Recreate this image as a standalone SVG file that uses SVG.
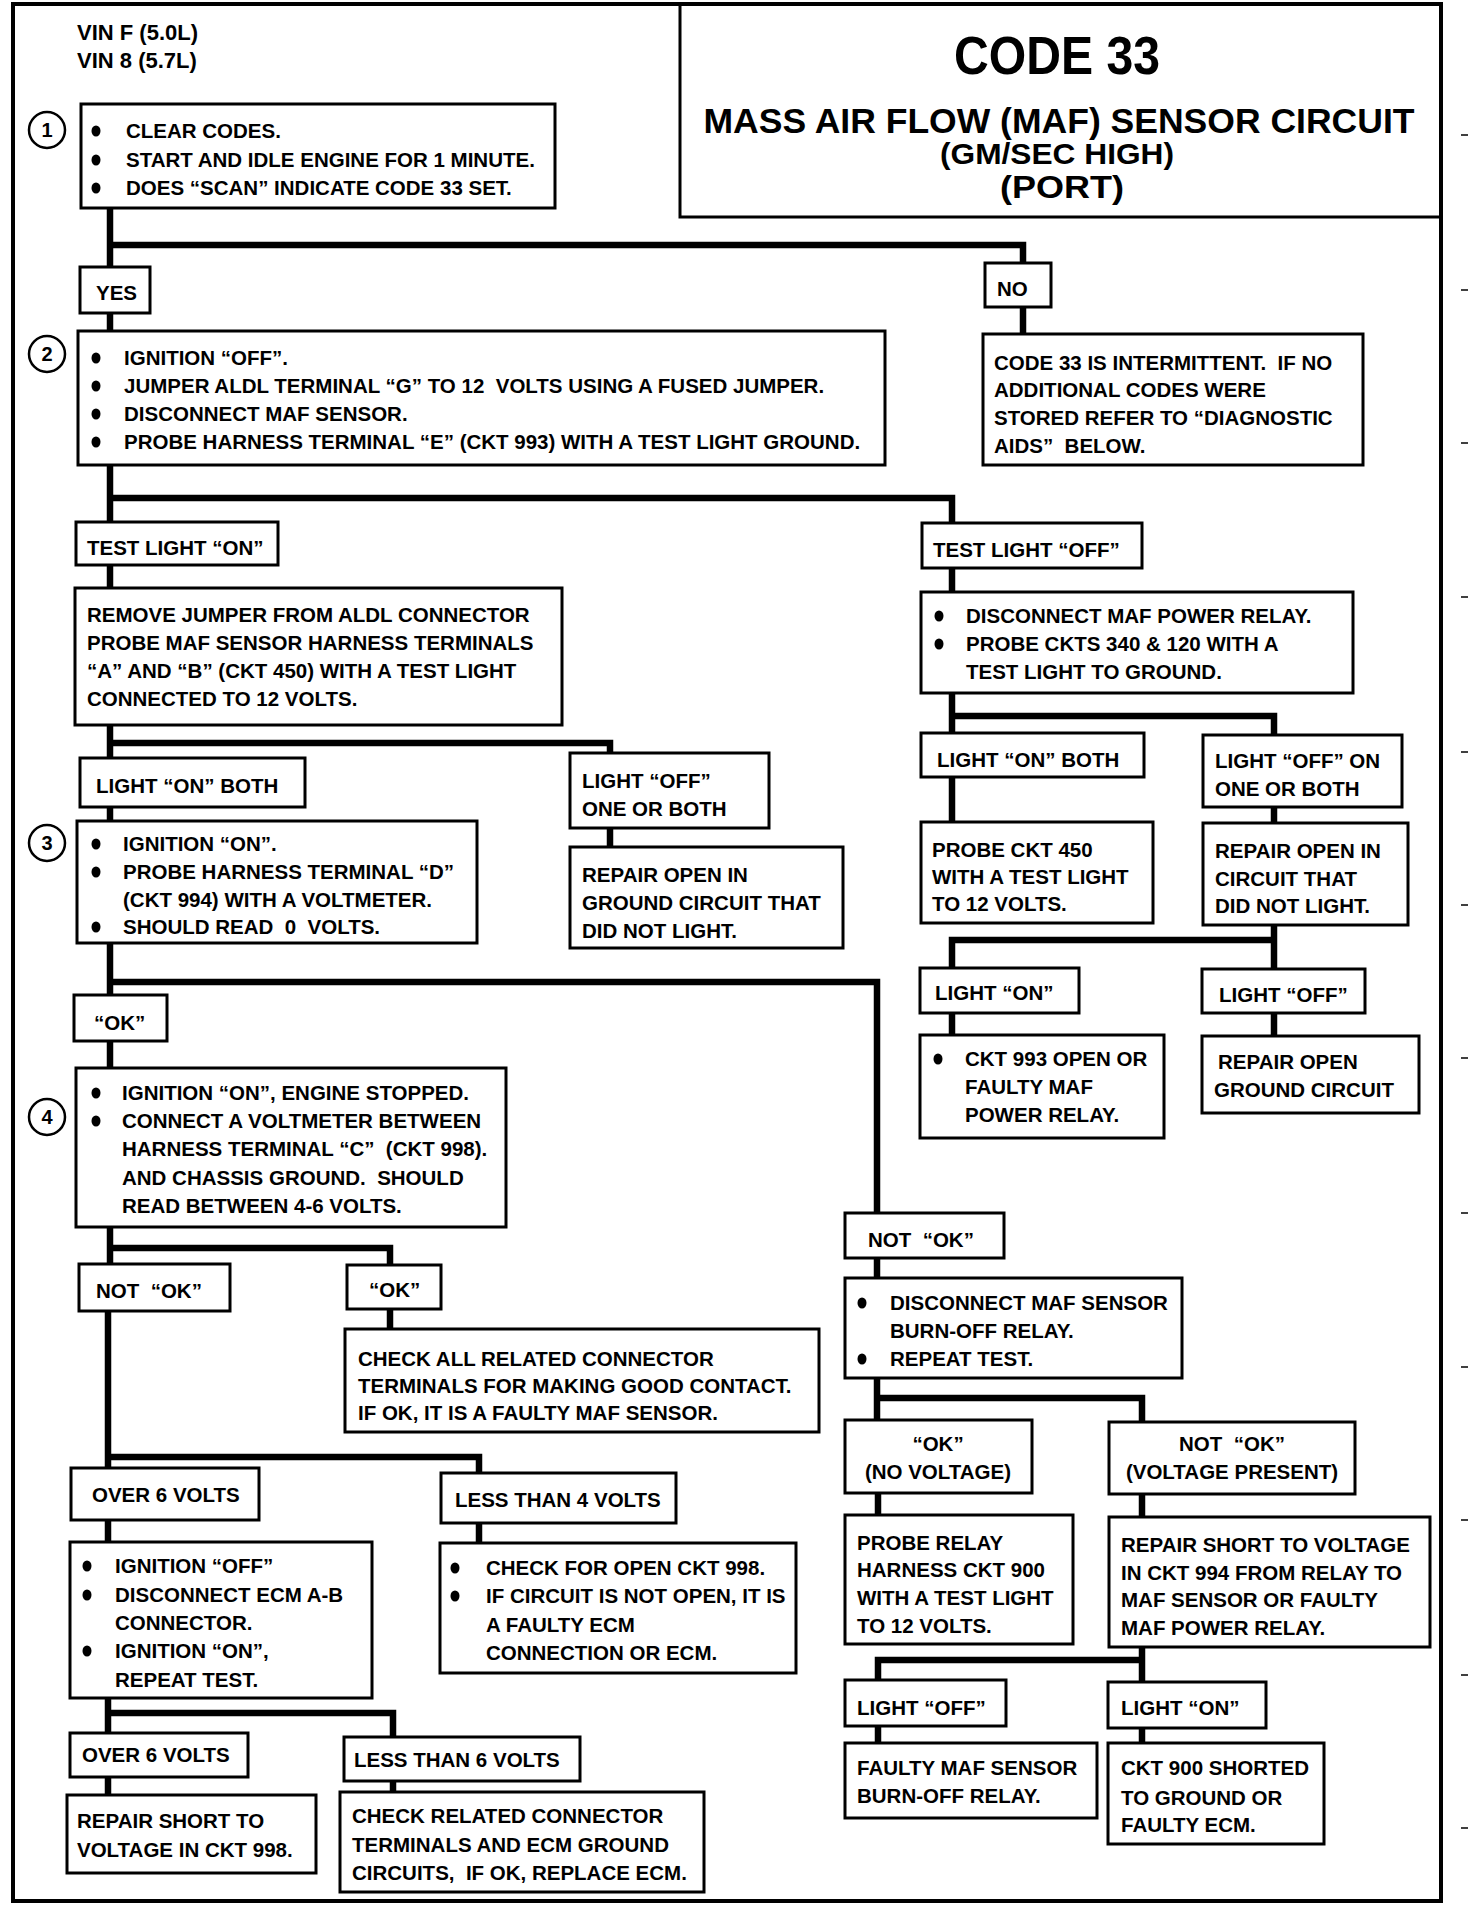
<svg xmlns="http://www.w3.org/2000/svg" width="1472" height="1914" viewBox="0 0 1472 1914">
<style>
.bg{fill:#fff}
.frame{fill:none;stroke:#000;stroke-width:4}
.tl{fill:none;stroke:#000;stroke-width:3}
.box{fill:#fff;stroke:#000;stroke-width:3}
.c{fill:none;stroke:#000;stroke-width:6.5;stroke-linejoin:miter}
.dash{stroke:#000;stroke-width:1.5}
text{font-family:"Liberation Sans",Arial,sans-serif;font-weight:bold;fill:#000}
.t{font-size:20.5px}
.v{font-size:22px}
.num{font-size:20px;text-anchor:middle}
.mid{text-anchor:middle}
.circ{fill:#fff;stroke:#000;stroke-width:2.5}
.b{fill:#000}
</style>
<rect class="bg" x="0" y="0" width="1472" height="1914"/>
<rect class="frame" x="13" y="4" width="1428" height="1897"/>
<g id="title">
<path class="tl" d="M680 4 V217 H1441"/>
<text x="1057" y="74" class="mid" font-size="54" textLength="206" lengthAdjust="spacingAndGlyphs">CODE 33</text>
<text x="1059" y="133" class="mid" font-size="35" textLength="711" lengthAdjust="spacingAndGlyphs">MASS AIR FLOW (MAF) SENSOR CIRCUIT</text>
<text x="1057" y="164" class="mid" font-size="30" textLength="234" lengthAdjust="spacingAndGlyphs">(GM/SEC HIGH)</text>
<text x="1062" y="198" class="mid" font-size="31" textLength="124" lengthAdjust="spacingAndGlyphs">(PORT)</text>
</g>
<g id="vin">
<text class="v" x="77" y="40">VIN F (5.0L)</text>
<text class="v" x="77" y="68">VIN 8 (5.7L)</text>
</g>
<g id="ticks">
<line class="dash" x1="1461" y1="135" x2="1468" y2="135"/>
<line class="dash" x1="1461" y1="290" x2="1468" y2="290"/>
<line class="dash" x1="1461" y1="443" x2="1468" y2="443"/>
<line class="dash" x1="1461" y1="597" x2="1468" y2="597"/>
<line class="dash" x1="1461" y1="752" x2="1468" y2="752"/>
<line class="dash" x1="1461" y1="905" x2="1468" y2="905"/>
<line class="dash" x1="1461" y1="1058" x2="1468" y2="1058"/>
<line class="dash" x1="1461" y1="1213" x2="1468" y2="1213"/>
<line class="dash" x1="1461" y1="1367" x2="1468" y2="1367"/>
<line class="dash" x1="1461" y1="1520" x2="1468" y2="1520"/>
<line class="dash" x1="1461" y1="1675" x2="1468" y2="1675"/>
<line class="dash" x1="1461" y1="1828" x2="1468" y2="1828"/>
</g>
<g id="connectors">
<path class="c" d="M110 208 V267"/>
<path class="c" d="M110 313 V331"/>
<path class="c" d="M110 245 H1023 V263"/>
<path class="c" d="M1023 307 V334"/>
<path class="c" d="M110 465 V522"/>
<path class="c" d="M110 498 H952 V523"/>
<path class="c" d="M952 568 V592"/>
<path class="c" d="M110 565 V588"/>
<path class="c" d="M110 725 V758"/>
<path class="c" d="M110 743 H610 V753"/>
<path class="c" d="M610 828 V847"/>
<path class="c" d="M110 807 V821"/>
<path class="c" d="M110 943 V995"/>
<path class="c" d="M110 982 H877 V1213"/>
<path class="c" d="M110 1041 V1068"/>
<path class="c" d="M110 1227 V1264"/>
<path class="c" d="M110 1248 H390 V1265"/>
<path class="c" d="M390 1309 V1329"/>
<path class="c" d="M108 1311 V1468"/>
<path class="c" d="M108 1457 H479 V1473"/>
<path class="c" d="M108 1520 V1542"/>
<path class="c" d="M479 1523 V1543"/>
<path class="c" d="M108 1698 V1733"/>
<path class="c" d="M108 1713 H393 V1737"/>
<path class="c" d="M108 1777 V1795"/>
<path class="c" d="M393 1781 V1792"/>
<path class="c" d="M952 693 V733"/>
<path class="c" d="M952 716 H1274 V735"/>
<path class="c" d="M952 777 V822"/>
<path class="c" d="M1274 807 V823"/>
<path class="c" d="M1274 925 V969"/>
<path class="c" d="M952 968 V940 H1274"/>
<path class="c" d="M952 1013 V1035"/>
<path class="c" d="M1274 1013 V1036"/>
<path class="c" d="M877 1258 V1278"/>
<path class="c" d="M877 1378 V1420"/>
<path class="c" d="M877 1398 H1142 V1422"/>
<path class="c" d="M878 1493 V1515"/>
<path class="c" d="M1142 1494 V1517"/>
<path class="c" d="M1142 1647 V1682"/>
<path class="c" d="M878 1680 V1660 H1142"/>
<path class="c" d="M878 1726 V1743"/>
<path class="c" d="M1142 1728 V1743"/>
</g>
<g id="step1">
<circle class="circ" cx="47" cy="130" r="18"/><text class="num" x="47" y="137">1</text>
<rect class="box" x="81" y="104" width="474" height="104"/>
<ellipse class="b" cx="96" cy="131" rx="4.5" ry="5.5"/><text class="t" x="126" y="138">CLEAR CODES.</text>
<ellipse class="b" cx="96" cy="160" rx="4.5" ry="5.5"/><text class="t" x="126" y="167">START AND IDLE ENGINE FOR 1 MINUTE.</text>
<ellipse class="b" cx="96" cy="188" rx="4.5" ry="5.5"/><text class="t" x="126" y="195">DOES “SCAN” INDICATE CODE 33 SET.</text>
</g>
<g id="yes"><rect class="box" x="80" y="267" width="70" height="46"/><text class="t" x="96" y="300">YES</text></g>
<g id="no"><rect class="box" x="985" y="263" width="66" height="44"/><text class="t" x="997" y="296">NO</text></g>
<g id="step2">
<circle class="circ" cx="47" cy="354" r="18"/><text class="num" x="47" y="361">2</text>
<rect class="box" x="78" y="331" width="807" height="134"/>
<ellipse class="b" cx="96" cy="358" rx="4.5" ry="5.5"/><text class="t" x="124" y="365">IGNITION “OFF”.</text>
<ellipse class="b" cx="96" cy="386" rx="4.5" ry="5.5"/><text class="t" x="124" y="393">JUMPER ALDL TERMINAL “G” TO 12&#160; VOLTS USING A FUSED JUMPER.</text>
<ellipse class="b" cx="96" cy="414" rx="4.5" ry="5.5"/><text class="t" x="124" y="421">DISCONNECT MAF SENSOR.</text>
<ellipse class="b" cx="96" cy="442" rx="4.5" ry="5.5"/><text class="t" x="124" y="449">PROBE HARNESS TERMINAL “E” (CKT 993) WITH A TEST LIGHT GROUND.</text>
</g>
<g id="intermittent">
<rect class="box" x="983" y="334" width="380" height="131"/>
<text class="t" x="994" y="370">CODE 33 IS INTERMITTENT.&#160; IF NO</text>
<text class="t" x="994" y="397">ADDITIONAL CODES WERE</text>
<text class="t" x="994" y="425">STORED REFER TO “DIAGNOSTIC</text>
<text class="t" x="994" y="453">AIDS”&#160; BELOW.</text>
</g>
<g id="tl-on"><rect class="box" x="76" y="522" width="202" height="43"/><text class="t" x="87" y="555">TEST LIGHT “ON”</text></g>
<g id="tl-off"><rect class="box" x="922" y="523" width="220" height="45"/><text class="t" x="933" y="557">TEST LIGHT “OFF”</text></g>
<g id="remove-jumper">
<rect class="box" x="75" y="588" width="487" height="137"/>
<text class="t" x="87" y="622">REMOVE JUMPER FROM ALDL CONNECTOR</text>
<text class="t" x="87" y="650">PROBE MAF SENSOR HARNESS TERMINALS</text>
<text class="t" x="87" y="678">“A” AND “B” (CKT 450) WITH A TEST LIGHT</text>
<text class="t" x="87" y="706">CONNECTED TO 12 VOLTS.</text>
</g>
<g id="disc-relay">
<rect class="box" x="921" y="592" width="432" height="101"/>
<ellipse class="b" cx="939" cy="616" rx="4.5" ry="5.5"/><text class="t" x="966" y="623">DISCONNECT MAF POWER RELAY.</text>
<ellipse class="b" cx="939" cy="644" rx="4.5" ry="5.5"/><text class="t" x="966" y="651">PROBE CKTS 340 &amp; 120 WITH A</text>
<text class="t" x="966" y="679">TEST LIGHT TO GROUND.</text>
</g>
<g id="lon-both-l"><rect class="box" x="80" y="758" width="225" height="49"/><text class="t" x="96" y="793">LIGHT “ON” BOTH</text></g>
<g id="loff-one-l">
<rect class="box" x="570" y="753" width="199" height="75"/>
<text class="t" x="582" y="788">LIGHT “OFF”</text>
<text class="t" x="582" y="816">ONE OR BOTH</text>
</g>
<g id="repair-gnd-l">
<rect class="box" x="570" y="847" width="273" height="101"/>
<text class="t" x="582" y="882">REPAIR OPEN IN</text>
<text class="t" x="582" y="910">GROUND CIRCUIT THAT</text>
<text class="t" x="582" y="938">DID NOT LIGHT.</text>
</g>
<g id="step3">
<circle class="circ" cx="47" cy="843" r="18"/><text class="num" x="47" y="850">3</text>
<rect class="box" x="77" y="821" width="400" height="122"/>
<ellipse class="b" cx="96" cy="844" rx="4.5" ry="5.5"/><text class="t" x="123" y="851">IGNITION “ON”.</text>
<ellipse class="b" cx="96" cy="872" rx="4.5" ry="5.5"/><text class="t" x="123" y="879">PROBE HARNESS TERMINAL “D”</text>
<text class="t" x="123" y="907">(CKT 994) WITH A VOLTMETER.</text>
<ellipse class="b" cx="96" cy="927" rx="4.5" ry="5.5"/><text class="t" x="123" y="934">SHOULD READ&#160; 0&#160; VOLTS.</text>
</g>
<g id="lon-both-r"><rect class="box" x="921" y="733" width="223" height="44"/><text class="t" x="937" y="767">LIGHT “ON” BOTH</text></g>
<g id="loff-one-r">
<rect class="box" x="1203" y="735" width="199" height="72"/>
<text class="t" x="1215" y="768">LIGHT “OFF” ON</text>
<text class="t" x="1215" y="796">ONE OR BOTH</text>
</g>
<g id="probe450">
<rect class="box" x="921" y="822" width="232" height="101"/>
<text class="t" x="932" y="857">PROBE CKT 450</text>
<text class="t" x="932" y="884">WITH A TEST LIGHT</text>
<text class="t" x="932" y="911">TO 12 VOLTS.</text>
</g>
<g id="repair-open-r">
<rect class="box" x="1203" y="823" width="205" height="102"/>
<text class="t" x="1215" y="858">REPAIR OPEN IN</text>
<text class="t" x="1215" y="886">CIRCUIT THAT</text>
<text class="t" x="1215" y="913">DID NOT LIGHT.</text>
</g>
<g id="lon-r"><rect class="box" x="920" y="968" width="159" height="45"/><text class="t" x="935" y="1000">LIGHT “ON”</text></g>
<g id="loff-r"><rect class="box" x="1202" y="969" width="163" height="44"/><text class="t" x="1219" y="1002">LIGHT “OFF”</text></g>
<g id="ckt993">
<rect class="box" x="920" y="1035" width="244" height="103"/>
<ellipse class="b" cx="938" cy="1059" rx="4.5" ry="5.5"/><text class="t" x="965" y="1066">CKT 993 OPEN OR</text>
<text class="t" x="965" y="1094">FAULTY MAF</text>
<text class="t" x="965" y="1122">POWER RELAY.</text>
</g>
<g id="repair-gnd-r">
<rect class="box" x="1202" y="1036" width="217" height="77"/>
<text class="t" x="1218" y="1069">REPAIR OPEN</text>
<text class="t" x="1214" y="1097">GROUND CIRCUIT</text>
</g>
<g id="ok-1"><rect class="box" x="74" y="995" width="93" height="46"/><text class="t" x="94" y="1030">“OK”</text></g>
<g id="step4">
<circle class="circ" cx="47" cy="1117" r="18"/><text class="num" x="47" y="1124">4</text>
<rect class="box" x="76" y="1068" width="430" height="159"/>
<ellipse class="b" cx="96" cy="1093" rx="4.5" ry="5.5"/><text class="t" x="122" y="1100">IGNITION “ON”, ENGINE STOPPED.</text>
<ellipse class="b" cx="96" cy="1121" rx="4.5" ry="5.5"/><text class="t" x="122" y="1128">CONNECT A VOLTMETER BETWEEN</text>
<text class="t" x="122" y="1156">HARNESS TERMINAL “C”&#160; (CKT 998).</text>
<text class="t" x="122" y="1185">AND CHASSIS GROUND.&#160; SHOULD</text>
<text class="t" x="122" y="1213">READ BETWEEN 4-6 VOLTS.</text>
</g>
<g id="notok-l"><rect class="box" x="79" y="1264" width="151" height="47"/><text class="t" x="96" y="1298">NOT&#160; “OK”</text></g>
<g id="ok-2"><rect class="box" x="347" y="1265" width="94" height="44"/><text class="t" x="369" y="1297">“OK”</text></g>
<g id="check-all">
<rect class="box" x="345" y="1329" width="474" height="103"/>
<text class="t" x="358" y="1366">CHECK ALL RELATED CONNECTOR</text>
<text class="t" x="358" y="1393">TERMINALS FOR MAKING GOOD CONTACT.</text>
<text class="t" x="358" y="1420">IF OK, IT IS A FAULTY MAF SENSOR.</text>
</g>
<g id="over6-a"><rect class="box" x="71" y="1468" width="188" height="52"/><text class="t" x="92" y="1502">OVER 6 VOLTS</text></g>
<g id="less4"><rect class="box" x="441" y="1473" width="235" height="50"/><text class="t" x="455" y="1507">LESS THAN 4 VOLTS</text></g>
<g id="ign-off">
<rect class="box" x="70" y="1542" width="302" height="156"/>
<ellipse class="b" cx="87" cy="1566" rx="4.5" ry="5.5"/><text class="t" x="115" y="1573">IGNITION “OFF”</text>
<ellipse class="b" cx="87" cy="1595" rx="4.5" ry="5.5"/><text class="t" x="115" y="1602">DISCONNECT ECM A-B</text>
<text class="t" x="115" y="1630">CONNECTOR.</text>
<ellipse class="b" cx="87" cy="1651" rx="4.5" ry="5.5"/><text class="t" x="115" y="1658">IGNITION “ON”,</text>
<text class="t" x="115" y="1687">REPEAT TEST.</text>
</g>
<g id="check-open">
<rect class="box" x="440" y="1543" width="356" height="130"/>
<ellipse class="b" cx="455" cy="1568" rx="4.5" ry="5.5"/><text class="t" x="486" y="1575">CHECK FOR OPEN CKT 998.</text>
<ellipse class="b" cx="455" cy="1596" rx="4.5" ry="5.5"/><text class="t" x="486" y="1603">IF CIRCUIT IS NOT OPEN, IT IS</text>
<text class="t" x="486" y="1632">A FAULTY ECM</text>
<text class="t" x="486" y="1660">CONNECTION OR ECM.</text>
</g>
<g id="over6-b"><rect class="box" x="70" y="1733" width="178" height="44"/><text class="t" x="82" y="1762">OVER 6 VOLTS</text></g>
<g id="less6"><rect class="box" x="344" y="1737" width="236" height="44"/><text class="t" x="354" y="1767">LESS THAN 6 VOLTS</text></g>
<g id="repair-998">
<rect class="box" x="67" y="1795" width="249" height="78"/>
<text class="t" x="77" y="1828">REPAIR SHORT TO</text>
<text class="t" x="77" y="1857">VOLTAGE IN CKT 998.</text>
</g>
<g id="check-related">
<rect class="box" x="340" y="1792" width="364" height="100"/>
<text class="t" x="352" y="1823">CHECK RELATED CONNECTOR</text>
<text class="t" x="352" y="1852">TERMINALS AND ECM GROUND</text>
<text class="t" x="352" y="1880">CIRCUITS,&#160; IF OK, REPLACE ECM.</text>
</g>
<g id="notok-r"><rect class="box" x="845" y="1213" width="159" height="45"/><text class="t" x="868" y="1247">NOT&#160; “OK”</text></g>
<g id="disc-burnoff">
<rect class="box" x="845" y="1278" width="337" height="100"/>
<ellipse class="b" cx="862" cy="1303" rx="4.5" ry="5.5"/><text class="t" x="890" y="1310">DISCONNECT MAF SENSOR</text>
<text class="t" x="890" y="1338">BURN-OFF RELAY.</text>
<ellipse class="b" cx="862" cy="1359" rx="4.5" ry="5.5"/><text class="t" x="890" y="1366">REPEAT TEST.</text>
</g>
<g id="ok-novolt">
<rect class="box" x="845" y="1420" width="187" height="73"/>
<text class="t mid" x="938" y="1451">“OK”</text>
<text class="t mid" x="938" y="1479">(NO VOLTAGE)</text>
</g>
<g id="notok-volt">
<rect class="box" x="1109" y="1422" width="246" height="72"/>
<text class="t mid" x="1232" y="1451">NOT&#160; “OK”</text>
<text class="t mid" x="1232" y="1479">(VOLTAGE PRESENT)</text>
</g>
<g id="probe-relay">
<rect class="box" x="845" y="1515" width="228" height="129"/>
<text class="t" x="857" y="1550">PROBE RELAY</text>
<text class="t" x="857" y="1577">HARNESS CKT 900</text>
<text class="t" x="857" y="1605">WITH A TEST LIGHT</text>
<text class="t" x="857" y="1633">TO 12 VOLTS.</text>
</g>
<g id="repair-994">
<rect class="box" x="1109" y="1517" width="321" height="130"/>
<text class="t" x="1121" y="1552">REPAIR SHORT TO VOLTAGE</text>
<text class="t" x="1121" y="1580">IN CKT 994 FROM RELAY TO</text>
<text class="t" x="1121" y="1607">MAF SENSOR OR FAULTY</text>
<text class="t" x="1121" y="1635">MAF POWER RELAY.</text>
</g>
<g id="loff-b"><rect class="box" x="845" y="1680" width="161" height="46"/><text class="t" x="857" y="1715">LIGHT “OFF”</text></g>
<g id="lon-b"><rect class="box" x="1108" y="1682" width="158" height="46"/><text class="t" x="1121" y="1715">LIGHT “ON”</text></g>
<g id="faulty-burnoff">
<rect class="box" x="845" y="1743" width="252" height="75"/>
<text class="t" x="857" y="1775">FAULTY MAF SENSOR</text>
<text class="t" x="857" y="1803">BURN-OFF RELAY.</text>
</g>
<g id="ckt900">
<rect class="box" x="1108" y="1743" width="216" height="101"/>
<text class="t" x="1121" y="1775">CKT 900 SHORTED</text>
<text class="t" x="1121" y="1805">TO GROUND OR</text>
<text class="t" x="1121" y="1832">FAULTY ECM.</text>
</g>
</svg>
